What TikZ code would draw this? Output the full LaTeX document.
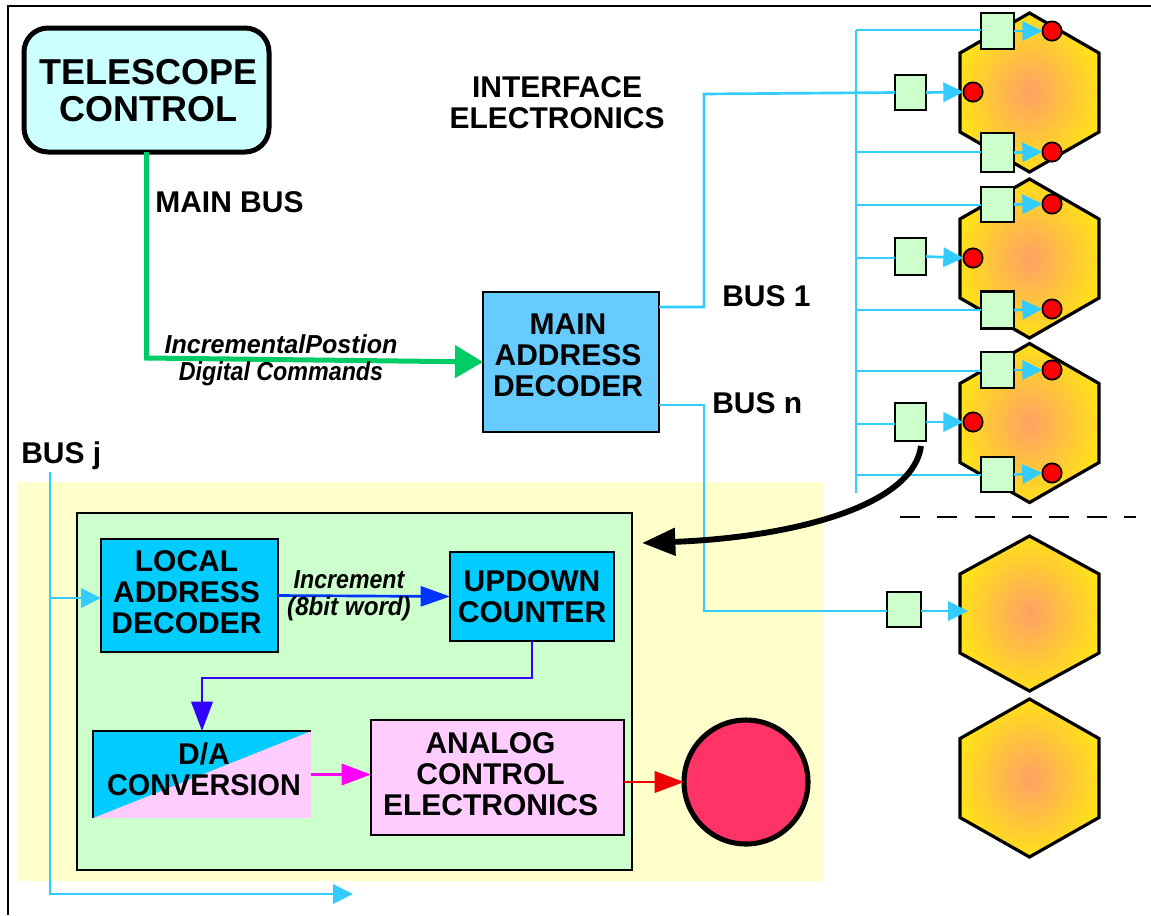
\documentclass[tikz,border=0pt]{standalone}
\usepackage{fontspec}
\setmainfont{Liberation Sans}
\usetikzlibrary{arrows.meta}
\definecolor{busblue}{RGB}{51,204,255}
\definecolor{mainfill}{RGB}{102,204,255}
\definecolor{cyanfill}{RGB}{0,204,255}
\definecolor{palecyan}{RGB}{204,255,255}
\definecolor{palegreen}{RGB}{204,255,204}
\definecolor{paleyellow}{RGB}{255,255,204}
\definecolor{palepink}{RGB}{255,204,255}
\definecolor{maingreen}{RGB}{0,204,102}
\definecolor{deepblue}{RGB}{51,0,255}
\definecolor{incblue}{RGB}{0,51,255}
\definecolor{mag}{RGB}{255,0,255}
\definecolor{redtip}{RGB}{238,0,0}
\definecolor{disk}{RGB}{255,51,102}
\definecolor{hexin}{RGB}{255,160,102}
\definecolor{hexout}{RGB}{255,224,26}
\newcommand{\bigb}{\fontsize{27pt}{27.75pt}\selectfont\bfseries}
\newcommand{\medb}{\fontsize{22.5pt}{23.25pt}\selectfont\bfseries}
\newcommand{\ital}{\fontsize{19.5pt}{20.5pt}\selectfont\bfseries\itshape}
\newcommand{\sq}[2]{\scalebox{#1}[1]{#2}}
% move the text of a node inside its box without changing the box: dx, dy in px
\newcommand{\nudged}[3]{\raisebox{\dimexpr #2pt*3/4\relax}[\height][\depth]{\kern\dimexpr #1pt*3/4\relax\begin{tabular}{@{}c@{}}#3\end{tabular}\kern-\dimexpr #1pt*3/4\relax}}
\tikzset{
  x=0.75pt,y=-0.75pt,
  sized/.style n args={2}{rectangle,minimum width=#1*0.75pt,minimum height=#2*0.75pt,inner sep=0pt,outer sep=0pt},
  blockbox/.style={draw=black,line width=2pt,text=black,align=center},
  smallbox/.style={draw=black,line width=1.9pt,fill=palegreen},
  dotnode/.style={circle,fill=red,draw=black,line width=1.3pt,minimum size=14.5pt,inner sep=0pt,outer sep=0pt},
  buslabel/.style={anchor=west,inner sep=0pt,font=\medb},
  textlabel/.style={inner sep=0pt,align=center},
  busline/.style={draw=busblue,line width=2pt},
  busarrow/.style={busline,-{Triangle[length=15pt,width=14.5pt]}},
  hexshape/.style={inner color=hexin,outer color=hexout},
  hexedge/.style={draw=black,line width=2.4pt,line join=miter},
}
\newcommand{\hexa}[3]{%
  \coordinate (#1) at (1029.5,#2);
  \shade[hexshape] (1029.5,#2-#3) -- (1099,#2-39.5) -- (1099,#2+39.5) -- (1029.5,#2+#3) -- (960,#2+39.5) -- (960,#2-39.5) -- cycle;
  \draw[hexedge] (1029.5,#2-#3) -- (1099,#2-39.5) -- (1099,#2+39.5) -- (1029.5,#2+#3) -- (960,#2+39.5) -- (960,#2-39.5) -- cycle;
}
\begin{document}
\begin{tikzpicture}
\useasboundingbox (0,0) rectangle (1151,915);
% frame
\coordinate (fa) at (8,915); \coordinate (fb) at (8,6); \coordinate (fc) at (1151,6);
\draw[line width=2.2pt,black] (fa) -- (fb) -- (fc);
% panels
\node[sized={806}{399},fill=paleyellow] (yellowp) at (420,681.5) {};
\node[sized={555}{357},fill=palegreen,draw=black,line width=2pt] (greenp) at (354.5,691.5) {};
% blocks
\node[sized={245}{124},draw=black,line width=3.75pt,rounded corners=18pt,fill=palecyan,font=\bigb] (tel) at (146.5,90) {\nudged{2}{-6}{TELESCOPE\\CONTROL}};
\node[sized={176}{140},blockbox,fill=mainfill,font=\medb] (dec) at (571,362) {\nudged{-3}{3}{MAIN\\ADDRESS\\DECODER}};
\node[sized={177}{113},blockbox,fill=cyanfill,font=\medb] (loc) at (189.5,595.5) {\nudged{-3}{-1}{LOCAL\\ADDRESS\\DECODER}};
\node[sized={164}{89},blockbox,fill=cyanfill,font=\medb] (up) at (532,596.5) {\nudged{0}{-4}{UPDOWN\\COUNTER}};
\node[sized={218}{87},fill=palepink,font=\medb,
  path picture={\fill[cyanfill] (path picture bounding box.south west) -- (path picture bounding box.north west) -- (path picture bounding box.north east) -- cycle;}] (da) at (202,774.5) {\nudged{2}{1}{D/A\\\sq{.96}{CONVERSION}}};
\draw[black,line width=2pt] (da.south west) -- (da.north west) -- (da.north east);
\node[sized={253}{115},blockbox,fill=palepink,font=\medb] (an) at (497.5,777.5) {\nudged{-7}{-1}{ANALOG\\CONTROL\\ELECTRONICS}};
\node[circle,minimum size=93pt,inner sep=0pt,outer sep=0pt,fill=disk,draw=black,line width=3.8pt] (dsk) at (746,782) {};
% hexagons
\hexa{h1}{92.5}{79.5}\hexa{h2}{258.5}{79.5}\hexa{h3}{423}{79.5}\hexa{h4}{613.5}{77.5}\hexa{h5}{778}{79}
% bus trunk and taps
\coordinate (tr0) at (856,30); \coordinate (tr1) at (856,493);
\coordinate (t1a) at (856,30); \coordinate (t1c) at (856,152);
\coordinate (t2a) at (856,205); \coordinate (t2b) at (856,258); \coordinate (t2c) at (856,310);
\coordinate (t3a) at (856,371); \coordinate (t3b) at (856,424); \coordinate (t3c) at (856,475);
\coordinate (b1a) at (704,307); \coordinate (b1b) at (704,94);
\coordinate (bna) at (704,405); \coordinate (bnb) at (704,611);
\coordinate (hex4tip) at (968,611);
% small boxes
\node[sized={33}{36},smallbox] (m1a) at (997.5,31) {};
\node[sized={31}{35},smallbox] (m1b) at (910.5,92.5) {};
\node[sized={33}{39},smallbox] (m1c) at (997.5,152.5) {};
\node[sized={33}{35},smallbox] (m2a) at (997.5,204.5) {};
\node[sized={31}{37},smallbox] (m2b) at (910.5,256.5) {};
\node[sized={33}{37},smallbox] (m2c) at (997.5,310) {};
\node[sized={33}{36},smallbox] (m3a) at (997.5,370) {};
\node[sized={31}{38},smallbox] (m3b) at (910.5,422) {};
\node[sized={33}{35},smallbox] (m3c) at (997.5,474.5) {};
\node[sized={34}{35},smallbox] (m4) at (904,609.5) {};
% dots
\node[dotnode] (d1a) at (1052,31) {}; \node[dotnode] (d1b) at (973,92) {}; \node[dotnode] (d1c) at (1052,152) {};
\node[dotnode] (d2a) at (1052,204) {}; \node[dotnode] (d2b) at (973,258) {}; \node[dotnode] (d2c) at (1052,309) {};
\node[dotnode] (d3a) at (1052,370) {}; \node[dotnode] (d3b) at (973,422) {}; \node[dotnode] (d3c) at (1052,473) {};
% bus wiring
\draw[busline] (tr0) -- (tr1);
\draw[busline] (t1a) -- (m1a.west |- t1a);
\draw[busline] (t1c) -- (m1c.west |- t1c);
\draw[busline] (t2a) -- (m2a.west |- t2a);
\draw[busline] (t2b) -- (m2b.west |- t2b);
\draw[busline] (t2c) -- (m2c.west |- t2c);
\draw[busline] (t3a) -- (m3a.west |- t3a);
\draw[busline] (t3b) -- (m3b.west |- t3b);
\draw[busline] (t3c) -- (m3c.west |- t3c);
\draw[busline] (dec.east |- b1a) -- (b1a) -- (b1b) -- (m1b.west);
\draw[busline] (dec.east |- bna) -- (bna) -- (bnb) -- (m4.west |- bnb);
\foreach \m/\d in {m1a/d1a,m1b/d1b,m1c/d1c,m2a/d2a,m2b/d2b,m2c/d2c,m3a/d3a,m3b/d3b,m3c/d3c}
  \draw[busarrow] (\m.east) -- (\d.west);
\draw[busarrow] (m4.east |- hex4tip) -- (hex4tip);
% dashed divider
\coordinate (da1) at (900,517); \coordinate (da2) at (1136,517);
\draw[black,line width=2.1pt,dash pattern=on 15pt off 13pt] (da1) -- (da2);
% main bus
\coordinate (mb) at (146.5,358);
\draw[draw=maingreen,line width=3.75pt,-{Triangle[length=21pt,width=24pt]}] (tel.south) -- (mb) -- (dec.west);
% local bus
\coordinate (bj0) at (50,472); \coordinate (bj1) at (50,894); \coordinate (bj2) at (353,894); \coordinate (bjt) at (50,598);
\draw[busarrow] (bj0) -- (bj1) -- (bj2);
\draw[busarrow] (bjt) -- (loc.west |- bjt);
% inner arrows
\draw[draw=incblue,line width=2pt,-{Triangle[length=22pt,width=15pt]}] (loc.east) -- (up.west);
\coordinate (c1) at (532,678); \coordinate (c2) at (202,678);
\draw[draw=deepblue,line width=2pt,-{Triangle[length=22pt,width=16pt]}] (up.south) -- (c1) -- (c2) -- (da.north);
\draw[draw=mag,line width=2pt,-{Triangle[length=22pt,width=16pt]}] (da.east) -- (an.west |- da.east);
\draw[draw=redtip,line width=2pt,-{Triangle[length=22pt,width=16pt]}] (an.east |- dsk.west) -- (dsk.west);
% black signal curve
\coordinate (sigs) at (921,446); \coordinate (sigt) at (642,543);
\draw[black,line width=4.4pt,-{Triangle[length=25pt,width=20pt]}] (sigs) .. controls (912,510) and (780,538) .. (sigt);
% labels
\node[buslabel] (lmain) at (155,202) {MAIN BUS};
\node[textlabel,font=\medb] (lif) at (557,103) {INTERFACE\\ELECTRONICS};
\node[buslabel] (lb1) at (722,296) {BUS 1};
\node[buslabel] (lbn) at (712,403) {BUS n};
\node[buslabel] (lbj) at (21,456) {BUS j};
\node[textlabel,font=\ital] (linc) at (281,360) {\sq{.965}{IncrementalPostion}\\\sq{.895}{Digital Commands}};
\node[textlabel,font=\ital] (lword) at (349,595.5) {\sq{.89}{Increment}\\\sq{.93}{(8bit word)}};
\end{tikzpicture}
\end{document}
